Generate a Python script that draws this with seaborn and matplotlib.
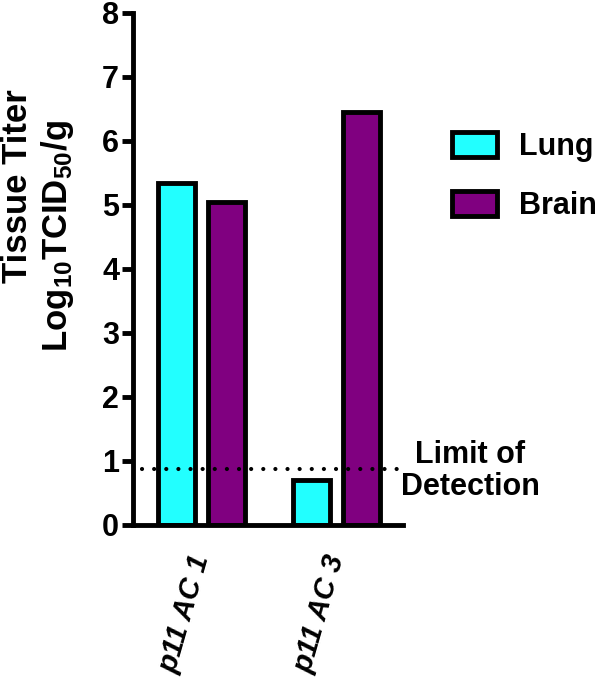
import matplotlib
matplotlib.use("Agg")
import matplotlib.pyplot as plt
from matplotlib.patches import Patch
import seaborn as sns
import pandas as pd

samples = ["p11 AC 1", "p11 AC 1", "p11 AC 3", "p11 AC 3"]
tissues = ["Lung", "Brain", "Lung", "Brain"]
titers = [5.35, 5.05, 0.70, 6.45]
limit_of_detection = 0.88
palette = {"Lung": "#22FFFF", "Brain": "#800080"}

df = pd.DataFrame({"sample": samples, "tissue": tissues, "titer": titers})

sns.set_style("ticks", {"text.color": "black", "axes.labelcolor": "black",
                        "axes.edgecolor": "black", "xtick.color": "black",
                        "ytick.color": "black"})
plt.rcParams["font.family"] = ["Liberation Sans", "DejaVu Sans"]
plt.rcParams["font.weight"] = "bold"
plt.rcParams["mathtext.fontset"] = "custom"
plt.rcParams["mathtext.rm"] = "Liberation Sans:bold"
plt.rcParams["mathtext.default"] = "rm"

W, H = 600, 685
fig = plt.figure(figsize=(W / 100, H / 100), dpi=100)
ax = fig.add_axes([133 / W, 1 - 525 / H, 270 / W, 512 / H])

sns.barplot(data=df, x="sample", y="titer", hue="tissue", palette=palette,
            width=0.74, gap=0.26, edgecolor="black", linewidth=3.5,
            saturation=1, legend=False, ax=ax)

# limit of detection
ax.axhline(limit_of_detection, xmin=0.035, xmax=1.0, color="black", lw=3,
           linestyle=(0, (0.01, 2.9)), dash_capstyle="round", clip_on=False)
fig.text(470 / W, 1 - 471 / H, "Limit of\nDetection", ha="center", va="center",
         fontsize=22, fontweight="bold", multialignment="center", linespacing=1.05)

ax.set_ylim(0, 8)
ax.set_xlim(-0.507, 1.493)
ax.set_yticks(range(0, 9))
ax.tick_params(axis="y", labelsize=22, width=3.5, length=8, pad=2)
ax.tick_params(axis="x", length=0, pad=22)
for lab in ax.get_yticklabels():
    lab.set_fontweight("bold")
ax.set_xticks([0, 1])
ax.set_xticklabels(["p11 AC 1", "p11 AC 3"], rotation=74, ha="right", va="center",
                   rotation_mode="anchor", fontsize=21, fontweight="bold",
                   fontstyle="italic")

ax.set_xlabel("")
ax.set_ylabel("")
fig.text(18 / W, 1 - 186 / H, "Tissue Titer", rotation=90, ha="center", va="center",
         fontsize=25, fontweight="bold")
fig.text(57 / W, 1 - 236 / H, "Log$_{10}$TCID$_{50}$/g", rotation=90, ha="center",
         va="center", fontsize=25, fontweight="bold")

for s in ["top", "right"]:
    ax.spines[s].set_visible(False)
for s in ["left", "bottom"]:
    ax.spines[s].set_linewidth(3.5)

handles = [Patch(facecolor=palette[t], edgecolor="black", linewidth=3.5, label=t)
           for t in ["Lung", "Brain"]]
fig.legend(handles=handles, loc="upper left", bbox_to_anchor=(440 / W, 1 - 120 / H),
           frameon=False, handlelength=1.45, handleheight=0.85, borderaxespad=0,
           labelspacing=0.95, handletextpad=0.75, prop={"weight": "bold", "size": 22})

fig.savefig("out.png", dpi=100)
